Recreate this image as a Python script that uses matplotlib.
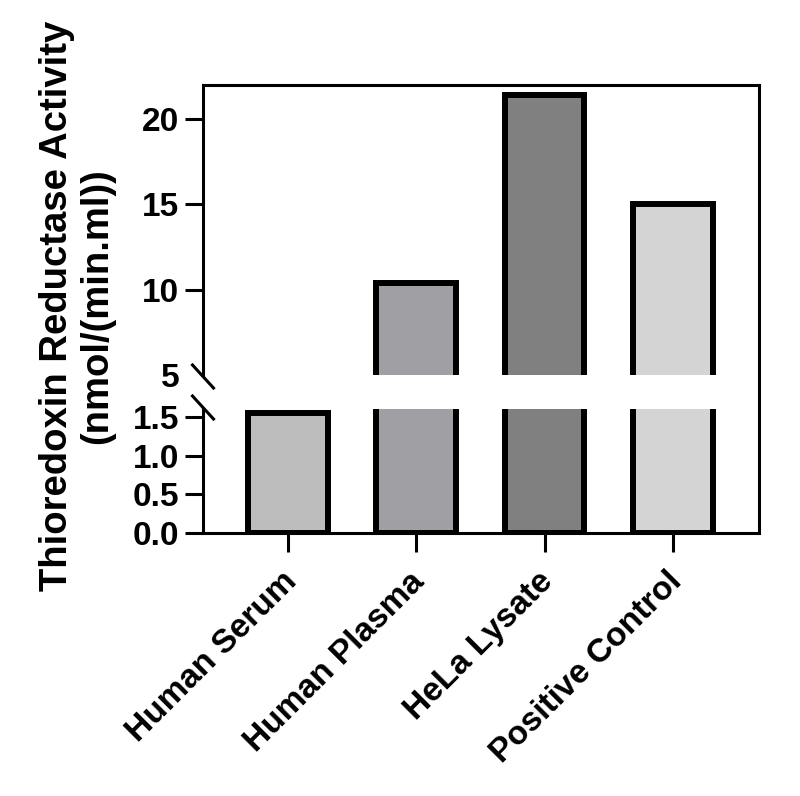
import matplotlib
matplotlib.use("Agg")
import matplotlib.pyplot as plt
from matplotlib.lines import Line2D
from matplotlib.transforms import ScaledTranslation

categories = ["Human Serum", "Human Plasma", "HeLa Lysate", "Positive Control"]
values = [1.55, 10.4, 21.4, 15.05]
colors = ["#bdbdbd", "#a0a0a4", "#808080", "#d4d4d4"]
top_ticks = [5, 10, 15, 20]
top_ticklabels = ["5", "10", "15", "20"]
bottom_ticks = [0.0, 0.5, 1.0, 1.5]
bottom_ticklabels = ["0.0", "0.5", "1.0", "1.5"]
ylabel = "Thioredoxin Reductase Activity\n(nmol/(min.ml))"

plt.rcParams['font.family'] = ['Liberation Sans', 'DejaVu Sans']
plt.rcParams['font.weight'] = 'bold'

W, H = 800, 796
fig = plt.figure(figsize=(8.0, 7.96), dpi=100)

L, R = 203 / W, 759 / W
top_b, top_t = 1 - 375 / H, 1 - 85 / H
bot_b, bot_t = 1 - 533 / H, 1 - 409 / H

ax_top = fig.add_axes([L, top_b, R - L, top_t - top_b])
ax_bot = fig.add_axes([L, bot_b, R - L, bot_t - bot_b])

x = list(range(len(categories)))
slw = 2.2
for ax in (ax_top, ax_bot):
    ax.bar(x, values, width=0.62, color=colors, edgecolor="black", linewidth=4.3)
    ax.set_xlim(-0.66, 3.67)
    ax.spines['right'].set_visible(False)
    for s in ax.spines.values():
        s.set_linewidth(slw)
    ax.tick_params(axis='y', length=13, width=slw, labelsize=24, pad=4)
    ax.tick_params(axis='x', length=13.5, width=slw, labelsize=24)

ax_top.set_ylim(5, 22)
ax_top.set_yticks(top_ticks)
ax_top.set_yticklabels(top_ticklabels, fontweight='bold')
ax_top.spines['bottom'].set_visible(False)
ax_top.set_xticks([])
ax_top.yaxis.get_major_ticks()[0].tick1line.set_visible(False)

ax_bot.set_ylim(0, 1.6)
ax_bot.set_yticks(bottom_ticks)
ax_bot.set_yticklabels(bottom_ticklabels, fontweight='bold')
ax_bot.spines['top'].set_visible(False)
ax_bot.set_xticks(x)
ax_bot.set_xticklabels([""] * len(categories))

# rotated category labels: end of baseline placed below-right of each tick
off = ScaledTranslation(10 / 100, -50 / 100, fig.dpi_scale_trans)
for xi, cat in zip(x, categories):
    ax_bot.text(xi, 0, cat, transform=ax_bot.get_xaxis_transform() + off,
                rotation=45, rotation_mode='anchor', ha='right', va='baseline',
                fontsize=24, fontweight='bold')

# continuous right frame line
fig.add_artist(Line2D([R, R], [bot_b, top_t], transform=fig.transFigure,
                      color='black', linewidth=slw, solid_capstyle='projecting'))

# break marks on the left axis
for yc in (376.5, 407.5):
    fig.add_artist(Line2D([(203 - 10.5) / W, (203 + 10.5) / W],
                          [1 - (yc - 11.5) / H, 1 - (yc + 11.5) / H],
                          transform=fig.transFigure, color='black', linewidth=slw))

fig.text(77 / W, 1 - 306 / H, ylabel, rotation=90, ha='center', va='center',
         fontsize=27.5, fontweight='bold', multialignment='center', linespacing=1.15)

fig.savefig("out.png", dpi=100)
